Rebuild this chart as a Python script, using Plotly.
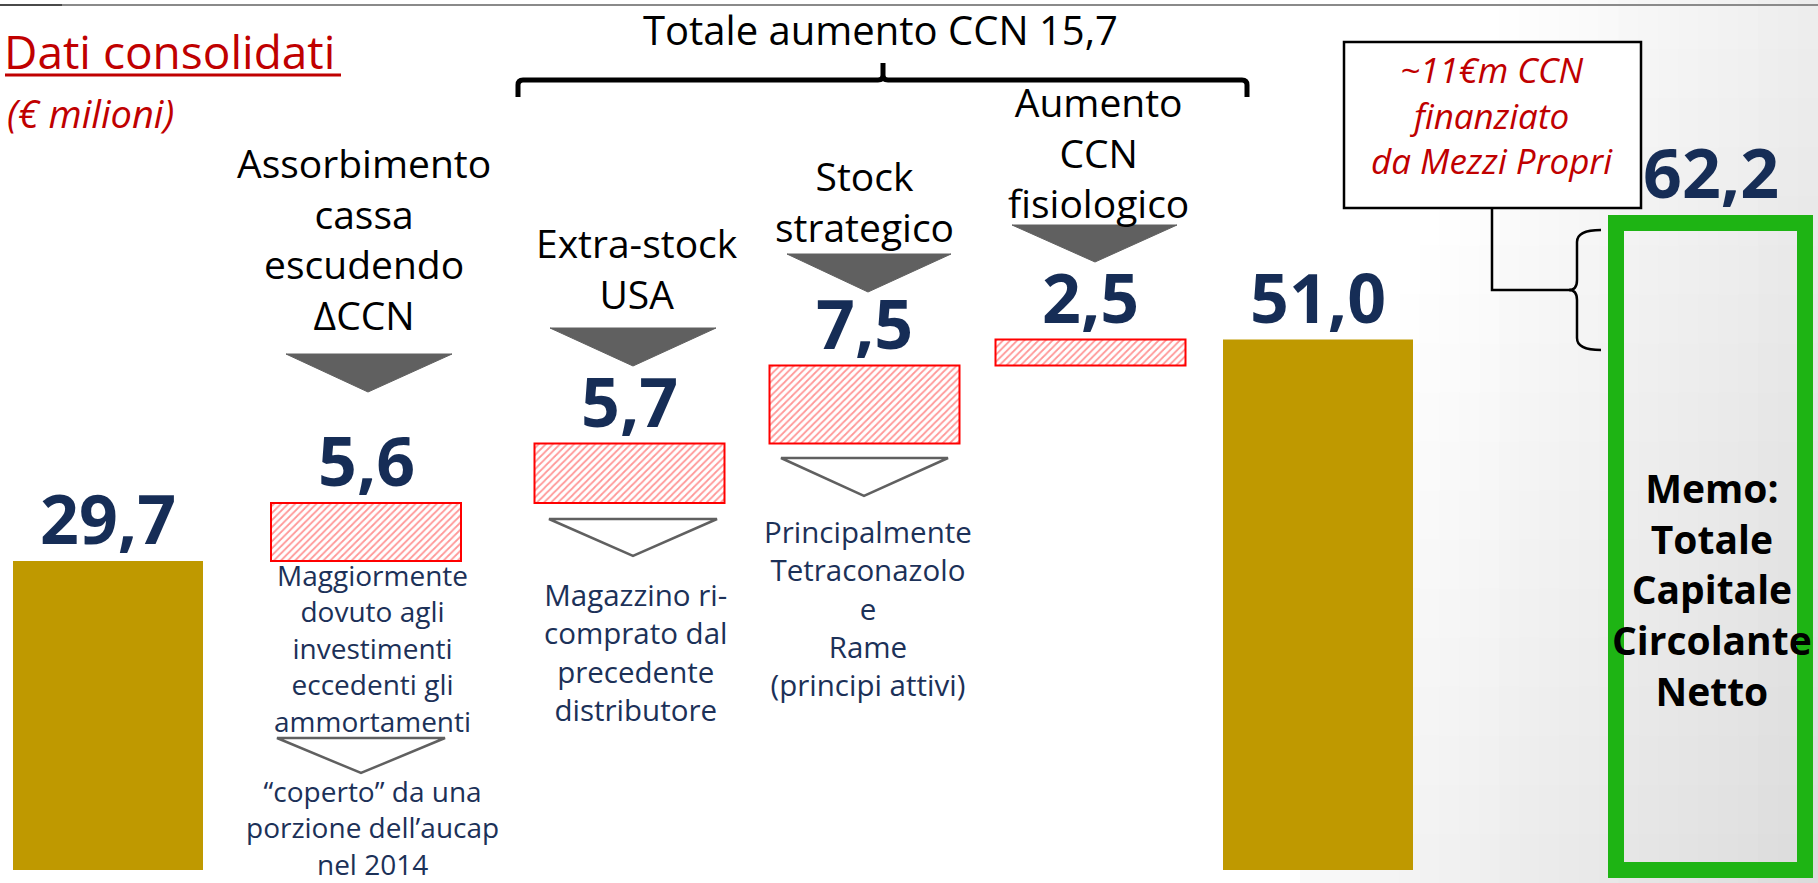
import plotly.graph_objects as go

W, H = 1818, 883

# ---------------- data ----------------
start_value = 29.7
step_titles = ["Assorbimento<br>cassa<br>escudendo<br>ΔCCN",
               "Extra-stock<br>USA",
               "Stock<br>strategico",
               "Aumento<br>CCN<br>fisiologico"]
step_values = [5.6, 5.7, 7.5, 2.5]
end_value = 51.0
memo_value = 62.2
memo_title = "Memo:<br>Totale<br>Capitale<br>Circolante<br>Netto"
note_texts = ["Maggiormente<br>dovuto agli<br>investimenti<br>eccedenti gli<br>ammortamenti",
              "Magazzino ri-<br>comprato dal<br>precedente<br>distributore",
              "Principalmente<br>Tetraconazolo<br>e<br>Rame<br>(principi attivi)"]
cover_note = "“coperto” da una<br>porzione dell’aucap<br>nel 2014"
funding_note = "~11€m CCN<br>finanziato<br>da Mezzi Propri"
total_title = "Totale aumento CCN"
page_title = "Dati consolidati"
page_unit = "(€ milioni)"


def fmt(v):
    return f"{v:.1f}".replace(".", ",")


# ---------------- layout constants ----------------
X_START, X_END, X_MEMO = 108, 1318, 1710.5
X_STEPS = [366, 629.5, 864.5, 1090.5]
BAR_W = 190
K = 10.4          # pixels per unit
BASE_PX = 870     # pixel row of value 0
FONT = "Open Sans"
NAVY = "#162d56"
NOTE = "#1c3158"
RED = "#c00000"
GOLD = "#bf9900"
GREEN = "#1eb414"
DARK = "#606060"


def px(x):
    return x / W


def py(y):
    return 1 - y / H


bases = []
c = start_value
for v in step_values:
    bases.append(c)
    c += v

fig = go.Figure()
fig.add_trace(go.Bar(x=[X_START, X_END], y=[start_value, end_value], width=BAR_W,
                     marker=dict(color=GOLD, line=dict(width=0)), hoverinfo="skip"))
fig.add_trace(go.Bar(x=X_STEPS, y=step_values, base=bases, width=BAR_W,
                     marker=dict(color="white",
                                 line=dict(color="#ff0000", width=2),
                                 pattern=dict(shape="/", fgcolor="#ff3030", bgcolor="white",
                                              size=5, solidity=0.35)),
                     hoverinfo="skip"))
fig.add_trace(go.Bar(x=[X_MEMO], y=[memo_value], width=189,
                     marker=dict(color="rgba(0,0,0,0)", line=dict(color=GREEN, width=16)),
                     hoverinfo="skip"))

ann = []


def text_at(cx, baseline, txt, size, color, weight="normal", style="normal", anchor="center"):
    top = baseline - 1.069 * size - 2
    ann.append(dict(x=px(cx), y=py(top), xref="paper", yref="paper", xanchor=anchor,
                    yanchor="top", showarrow=False, text=txt, align=anchor,
                    font=dict(family=FONT, size=size, color=color, weight=weight, style=style)))


def value_label(cx, top_val, txt, yshift=-5):
    ann.append(dict(x=cx, y=top_val, xref="x", yref="y", xanchor="center", yanchor="bottom",
                    yshift=yshift, showarrow=False, text=txt,
                    font=dict(family=FONT, size=68, color=NAVY, weight="bold")))


# value labels (through the data axes)
value_label(X_START, start_value, fmt(start_value))
for xc, b, v in zip(X_STEPS, bases, step_values):
    value_label(xc, b + v, fmt(v))
value_label(X_END, end_value, fmt(end_value))
value_label(X_MEMO, memo_value, fmt(memo_value), yshift=3)

# headings
text_at(2, 69, page_title, 46, RED, anchor="left")
text_at(5, 128, page_unit, 38, RED, style="italic", anchor="left")
text_at(880, 45, f"{total_title} {fmt(sum(step_values[1:]))}", 40, "black")
title_pos = [(364, 178), (637, 258), (864, 191), (1098, 117)]
for (cx, bl), t in zip(title_pos, step_titles):
    text_at(cx, bl, t, 39, "black")

# notes
text_at(372, 586, note_texts[0], 28, NOTE)
text_at(372, 802, cover_note, 28, NOTE)
text_at(636, 606, note_texts[1], 29.5, NOTE)
text_at(867.5, 543, note_texts[2], 29.5, NOTE)
text_at(1492, 83, funding_note, 35, RED, style="italic")
text_at(1712, 503, memo_title, 39, "black", weight="bold")

shapes = []

# background gradient on the right side
X0G = 1300
NC, NR = 26, 18
dx = (W - X0G) / NC
dy = H / NR
for i in range(NC):
    for j in range(NR):
        xc = X0G + (i + 0.5) * dx
        yc = (j + 0.5) * dy
        d = ((xc - X0G) / (W - X0G)) * 0.75 + (yc / H) * 0.45 - 0.3
        d = max(0.0, min(1.0, d)) * 40
        g = round(255 - d)
        if g >= 255:
            continue
        shapes.append(dict(type="rect", xref="paper", yref="paper", layer="below",
                           x0=px(X0G + i * dx), x1=px(X0G + (i + 1) * dx + 1),
                           y0=py(j * dy), y1=py((j + 1) * dy + 1),
                           line=dict(width=0), fillcolor=f"rgb({g},{g},{g})"))


def path(pts, close=True):
    s = "M " + " L ".join(f"{px(x)},{py(y)}" for x, y in pts)
    return s + (" Z" if close else "")


def tri_solid(x0, x1, y0, xa, ya):
    shapes.append(dict(type="path", xref="paper", yref="paper",
                       path=path([(x0, y0), (x1, y0), (xa, ya)]),
                       fillcolor=DARK, line=dict(color=DARK, width=1)))


def tri_open(x0, x1, y0, xa, ya):
    shapes.append(dict(type="path", xref="paper", yref="paper",
                       path=path([(x0, y0), (x1, y0), (xa, ya)]),
                       fillcolor="white", line=dict(color=DARK, width=2.5)))


tri_solid(286, 452, 354, 368, 392)
tri_solid(550, 716, 328, 633, 366)
tri_solid(787, 951, 254, 868, 292)
tri_solid(1012, 1177, 225, 1095, 262)
tri_open(277, 445, 738, 361, 773)
tri_open(549, 717, 519, 633, 556)
tri_open(781, 948, 458, 864, 496)

# top rule
shapes.append(dict(type="line", xref="paper", yref="paper", x0=0, x1=1, y0=py(5), y1=py(5),
                   line=dict(color="#8a8a8a", width=2)))
shapes.append(dict(type="line", xref="paper", yref="paper", x0=0, x1=px(62), y0=py(5), y1=py(5),
                   line=dict(color="#4a4a4a", width=2)))
# underline of the heading
shapes.append(dict(type="line", xref="paper", yref="paper", x0=px(5), x1=px(341), y0=py(75), y1=py(75),
                   line=dict(color=RED, width=3)))


def P(x, y):
    return f"{px(x)},{py(y)}"


# bracket over the three CCN steps
br = (f"M {P(518,97)} L {P(518,85)} Q {P(518,80)} {P(523,80)} L {P(878,80)} Q {P(883,80)} {P(883,75)} "
      f"L {P(883,63)} M {P(883,75)} Q {P(883,80)} {P(888,80)} L {P(1242,80)} Q {P(1247,80)} {P(1247,85)} "
      f"L {P(1247,97)}")
shapes.append(dict(type="path", xref="paper", yref="paper", path=br, line=dict(color="black", width=5)))

# callout box + connector + curly brace
shapes.append(dict(type="rect", xref="paper", yref="paper", x0=px(1344), x1=px(1641), y0=py(42), y1=py(208),
                   fillcolor="white", line=dict(color="black", width=2.5), layer="below"))
shapes.append(dict(type="path", xref="paper", yref="paper",
                   path=f"M {P(1492,208)} L {P(1492,290)} L {P(1571,290)}",
                   line=dict(color="black", width=2.5)))
brace = (f"M {P(1601,230)} Q {P(1577,230)} {P(1577,242)} L {P(1577,280)} Q {P(1577,290)} {P(1569,290)} "
         f"Q {P(1577,290)} {P(1577,300)} L {P(1577,338)} Q {P(1577,350)} {P(1601,350)}")
shapes.append(dict(type="path", xref="paper", yref="paper", path=brace, line=dict(color="black", width=2.5)))

fig.update_layout(
    width=W, height=H,
    margin=dict(l=0, r=0, t=0, b=0, pad=0),
    paper_bgcolor="white", plot_bgcolor="rgba(0,0,0,0)",
    barmode="overlay", showlegend=False,
    xaxis=dict(range=[0, W], visible=False, fixedrange=True),
    yaxis=dict(range=[-(H - BASE_PX) / K, BASE_PX / K], visible=False, fixedrange=True),
    annotations=ann, shapes=shapes,
    font=dict(family=FONT),
)

fig.write_html("out.html", config={"displayModeBar": False},
               post_script="document.body.style.margin='0px';document.body.style.overflow='hidden';")
